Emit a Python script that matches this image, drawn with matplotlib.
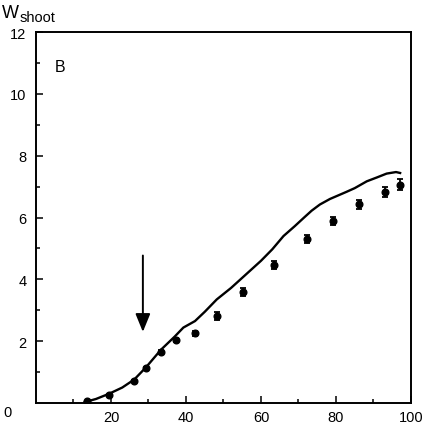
import matplotlib
matplotlib.use("Agg")
import matplotlib.pyplot as plt
import numpy as np

plt.rcParams['font.family'] = ['Liberation Sans', 'DejaVu Sans']

# Observed points
obs_x = [13.5, 19.5, 26.2, 29.3, 33.3, 37.3, 42.4, 48.4, 55.3, 63.4, 72.3, 79.2, 86.1, 93.1, 97.1]
obs_y = [0.05, 0.27, 0.71, 1.13, 1.65, 2.03, 2.25, 2.81, 3.59, 4.46, 5.30, 5.89, 6.43, 6.82, 7.06]
obs_err = [0.03, 0.03, 0.04, 0.05, 0.05, 0.06, 0.08, 0.14, 0.12, 0.13, 0.13, 0.14, 0.15, 0.16, 0.17]

# Simulated curve
sim_x = [13, 16, 19.5, 23, 26.2, 29.3, 33.3, 37, 39.3, 42.4, 45, 48.2, 52, 57, 60, 63, 66,
         69, 71.5, 73.5, 75.7, 78.4, 82.8, 85, 88.2, 91, 93.5, 96, 97.1]
sim_y = [0.03, 0.13, 0.3, 0.5, 0.76, 1.15, 1.72, 2.15, 2.44, 2.65, 2.95, 3.35, 3.72, 4.27, 4.6, 4.97, 5.4,
         5.72, 6.0, 6.22, 6.42, 6.6, 6.83, 6.95, 7.17, 7.3, 7.42, 7.47, 7.44]

xticks = [20, 40, 60, 80, 100]
yticks = [2, 4, 6, 8, 10, 12]

arrow_x = 28.5
arrow_top = 4.77
arrow_tip = 2.3

W, H = 431, 427
fig = plt.figure(figsize=(W/100, H/100), dpi=100)
ax = fig.add_axes([36/W, 1-404/H, 375/W, 371/H])

ax.plot(sim_x, sim_y, color='black', lw=1.7)
ax.errorbar(obs_x, obs_y, yerr=obs_err, fmt='o', color='black', ms=4.8,
            capsize=2, elinewidth=1.3, capthick=1.3)

ax.annotate('', xy=(arrow_x, arrow_tip), xytext=(arrow_x, arrow_top),
            arrowprops=dict(arrowstyle='-|>,head_length=1.1,head_width=0.45',
                            color='black', lw=1.4, shrinkA=0, shrinkB=0))

ax.set_xlim(0, 100)
ax.set_ylim(0, 12)
ax.set_xticks(xticks)
ax.set_yticks(yticks)
ax.set_xticks([10, 30, 50, 70, 90], minor=True)
ax.set_yticks([1, 3, 5, 7, 9, 11], minor=True)
ax.tick_params(which='both', direction='in', labelsize=10.5, width=1.1)
ax.tick_params(which='major', length=5)
ax.tick_params(which='minor', length=3)
ax.tick_params(axis='x', pad=5)
ax.tick_params(axis='y', pad=7)
for s in ax.spines.values():
    s.set_linewidth(1.4)

ax.text(6.4, 10.9, 'B', fontsize=11.5, ha='center', va='center')

fig.text(8/W, 1-413/H, '0', fontsize=10.5, ha='center', va='center')
fig.text(2/W, 1-13/H, 'W', fontsize=13, ha='left', va='center')
fig.text(20/W, 1-18/H, 'shoot', fontsize=10.5, ha='left', va='center')

fig.savefig('out.png', dpi=100)
